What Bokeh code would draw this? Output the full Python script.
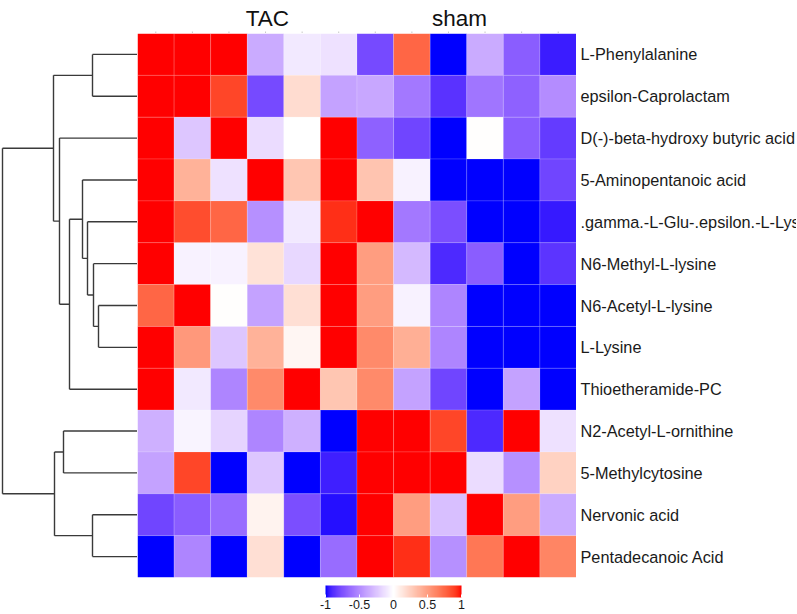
import numpy as np
from bokeh.plotting import figure
from bokeh.models import (ColumnDataSource, LinearColorMapper, ColorBar, FixedTicker,
                          Range1d, Spacer)
from bokeh.layouts import row, column
from bokeh.embed import file_html
from bokeh.resources import INLINE
from bokeh.core.properties import value

# ---------------- data ----------------
metabolites = [
    "L-Phenylalanine",
    "epsilon-Caprolactam",
    "D(-)-beta-hydroxy butyric acid",
    "5-Aminopentanoic acid",
    ".gamma.-L-Glu-.epsilon.-L-Lys",
    "N6-Methyl-L-lysine",
    "N6-Acetyl-L-lysine",
    "L-Lysine",
    "Thioetheramide-PC",
    "N2-Acetyl-L-ornithine",
    "5-Methylcytosine",
    "Nervonic acid",
    "Pentadecanoic Acid",
]
groups = ["TAC", "sham"]
n_samples = 12

z_phe = [1, 1, 1, -0.36, -0.10, -0.13, -0.78, 0.75, -1, -0.36, -0.70, -0.94]
z_cap = [1, 1, 0.87, -0.78, 0.18, -0.40, -0.38, -0.58, -0.87, -0.60, -0.68, -0.50]
z_bhb = [1, -0.25, 1, -0.15, 0.00, 1, -0.68, -0.80, -1, 0.01, -0.70, -0.84]
z_ami = [1, 0.40, -0.13, 1, 0.30, 1, 0.31, -0.06, -1, -1, -1, -0.80]
z_glu = [1, 0.85, 0.75, -0.48, -0.10, 0.93, 1, -0.58, -0.76, -1, -1, -0.95]
z_n6m = [1, -0.06, -0.06, 0.15, -0.17, 1, 0.50, -0.30, -0.90, -0.70, -1, -0.86]
z_n6a = [0.75, 1, 0.01, -0.40, 0.17, 1, 0.50, -0.06, -0.53, -1, -1, -1]
z_lys = [1, 0.53, -0.25, 0.40, 0.05, 1, 0.60, 0.42, -0.53, -1, -1, -1]
z_thi = [1, -0.10, -0.53, 0.60, 1, 0.30, 0.60, -0.40, -0.80, -1, -0.40, -1]
z_n2a = [-0.34, -0.05, -0.18, -0.53, -0.34, -1, 1, 1, 0.87, -0.90, 1, -0.13]
z_mcy = [-0.40, 0.87, -1, -0.25, -1, -0.93, 1, 1, 1, -0.15, -0.48, 0.24]
z_ner = [-0.80, -0.70, -0.64, 0.07, -0.76, -0.97, 1, 0.50, -0.28, 1, 0.50, -0.36]
z_pen = [-1, -0.53, -1, 0.17, -1, -0.64, 1, 0.93, -0.48, 0.68, 1, 0.62]
z_rows = [z_phe, z_cap, z_bhb, z_ami, z_glu, z_n6m, z_n6a, z_lys, z_thi,
          z_n2a, z_mcy, z_ner, z_pen]

# dendrogram merges (leaf indices 0..12 in display order, new nodes 13..)
merge_left = [6, 5, 4, 3, 16, 2, 0, 19, 9, 11, 21, 20]
merge_right = [7, 13, 14, 15, 8, 17, 1, 18, 10, 12, 22, 23]
merge_height = [39, 44, 50, 55, 68, 78, 45, 84, 74, 45, 83, 135]

colorbar_ticks = [-1, -0.5, 0, 0.5, 1]

# ---------------- palette (blue - white - red, Lab interpolation) ----------------
M = np.array([[0.4124564, 0.3575761, 0.1804375],
              [0.2126729, 0.7151522, 0.0721750],
              [0.0193339, 0.1191920, 0.9503041]])
Minv = np.linalg.inv(M)
WP = np.array([0.95047, 1.0, 1.08883])


def to_lab(rgb):
    c = np.array(rgb) / 255.0
    lin = np.where(c <= 0.04045, c / 12.92, ((c + 0.055) / 1.055) ** 2.4)
    t = (M @ lin) / WP
    d = 6 / 29
    f = np.where(t > d ** 3, np.cbrt(t), t / (3 * d * d) + 4 / 29)
    return np.array([116 * f[1] - 16, 500 * (f[0] - f[1]), 200 * (f[1] - f[2])])


def to_hex(lab):
    L, a, b = lab
    fy = (L + 16) / 116
    fx = fy + a / 500
    fz = fy - b / 200
    d = 6 / 29

    def finv(f):
        return f ** 3 if f > d else 3 * d * d * (f - 4 / 29)
    xyz = np.array([finv(fx), finv(fy), finv(fz)]) * WP
    lin = np.clip(Minv @ xyz, 0, 1)
    c = np.where(lin <= 0.0031308, 12.92 * lin, 1.055 * lin ** (1 / 2.4) - 0.055)
    c = np.clip(c, 0, 1)
    return "#%02x%02x%02x" % tuple(int(round(v * 255)) for v in c)


blue, white, red = to_lab((0, 0, 255)), to_lab((255, 255, 255)), to_lab((255, 0, 0))
half = 128
palette = [to_hex(blue + (white - blue) * i / (half - 1)) for i in range(half)] + \
          [to_hex(white + (red - white) * i / (half - 1)) for i in range(half)]
mapper = LinearColorMapper(palette=palette, low=-1, high=1)

# ---------------- geometry ----------------
n_rows = len(metabolites)
FONT = "Liberation Sans"
FH = 544          # frame height
TOP = 33
BOTTOM = 36
DW, HW, LW = 137, 439, 220
common = dict(frame_height=FH, toolbar_location=None, output_backend="svg",
              x_axis_location=None, y_axis_location=None,
              min_border_left=0, min_border_right=0,
              min_border_top=0, min_border_bottom=BOTTOM)


def clean(p):
    p.grid.visible = False
    p.outline_line_color = None
    return p


# ---------------- heatmap ----------------
xs, ys, vs = [], [], []
for i, r in enumerate(z_rows):
    for j, v in enumerate(r):
        xs.append(j + 0.5)
        ys.append(i + 0.5)
        vs.append(v)
src = ColumnDataSource(dict(x=xs, y=ys, v=vs))

hm = clean(figure(frame_width=HW, x_range=Range1d(0, n_samples),
                  y_range=Range1d(n_rows, 0), **common))
hm.rect(x="x", y="y", width=1, height=1, source=src,
        fill_color={"field": "v", "transform": mapper},
        line_color="white", line_alpha=0.25, line_width=0.6)

cb = ColorBar(color_mapper=mapper, orientation="horizontal", width=136, height=12,
              ticker=FixedTicker(ticks=colorbar_ticks), location=(187, 0),
              title=" ", title_text_font_size="1px", title_standoff=4,
              major_label_text_font=FONT, major_label_text_font_size="12.5px",
              major_label_text_color="#1a1a1a", major_tick_line_color="white",
              major_tick_in=3, major_tick_out=0, minor_tick_line_color=None,
              bar_line_color=None, border_line_color=None,
              background_fill_alpha=0, padding=1, label_standoff=2,
              major_label_overrides={-1: "-1", -0.5: "-0.5", 0: "0", 0.5: "0.5", 1: "1"})
hm.add_layout(cb, "below")

# ---------------- group labels above ----------------
top = clean(figure(frame_width=HW, frame_height=TOP, x_range=Range1d(0, n_samples),
                   y_range=Range1d(TOP, 0), toolbar_location=None, output_backend="svg",
                   x_axis_location=None, y_axis_location=None, min_border=0))
group_x = [3.55, 8.80]
top.text(x=group_x, y=[18, 18], text=groups, text_align="center",
         text_baseline="alphabetic", text_font=value(FONT),
         text_font_size="22.5px", text_color="#111111")
centers = [j + 0.5 for j in range(n_samples)]
top.segment(x0=centers, y0=[TOP - 2] * n_samples, x1=centers, y1=[TOP] * n_samples,
            line_color="#c8c8c8", line_width=1)

# ---------------- row labels ----------------
lab = clean(figure(frame_width=LW, x_range=Range1d(0, LW), y_range=Range1d(n_rows, 0),
                   **common))
lab_src = ColumnDataSource(dict(x=[0] * n_rows, y=[i + 0.5 for i in range(n_rows)],
                                t=metabolites))
lab.text(x="x", y="y", text="t", source=lab_src, x_offset=4,
         text_align="left", text_baseline="middle",
         text_font=value(FONT), text_font_size="16.3px", text_color="#1a1a1a")

# ---------------- dendrogram ----------------
node_y = [i + 0.5 for i in range(n_rows)]
node_h = [0.0] * n_rows
x0, y0, x1, y1 = [], [], [], []
for l, r, h in zip(merge_left, merge_right, merge_height):
    yl, yr = node_y[l], node_y[r]
    x0 += [node_h[l], node_h[r], h]
    y0 += [yl, yr, yl]
    x1 += [h, h, h]
    y1 += [yl, yr, yr]
    node_y.append((yl + yr) / 2)
    node_h.append(h)
dsrc = ColumnDataSource(dict(x0=x0, y0=y0, x1=x1, y1=y1))

dd = clean(figure(frame_width=DW, x_range=Range1d(DW, 0), y_range=Range1d(n_rows, 0),
                  **common))
dd.segment(x0="x0", y0="y0", x1="x1", y1="y1", source=dsrc,
           line_color="#3a3a3a", line_width=1.4)

layout = column(row(Spacer(width=DW, height=TOP), top),
                row(dd, hm, lab))
open("out.html", "w").write(file_html(layout, INLINE))
